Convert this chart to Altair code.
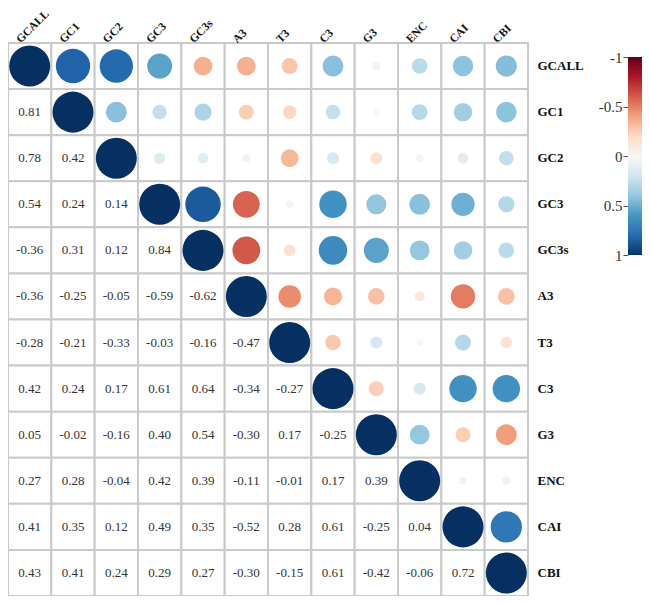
import altair as alt
import pandas as pd

variables = ["GCALL", "GC1", "GC2", "GC3", "GC3s", "A3", "T3", "C3", "G3", "ENC", "CAI", "CBI"]

# lower-triangle correlation values, row by row (row i, columns 0..i-1)
lower = [
    [],
    [0.81],
    [0.78, 0.42],
    [0.54, 0.24, 0.14],
    [-0.36, 0.31, 0.12, 0.84],
    [-0.36, -0.25, -0.05, -0.59, -0.62],
    [-0.28, -0.21, -0.33, -0.03, -0.16, -0.47],
    [0.42, 0.24, 0.17, 0.61, 0.64, -0.34, -0.27],
    [0.05, -0.02, -0.16, 0.40, 0.54, -0.30, 0.17, -0.25],
    [0.27, 0.28, -0.04, 0.42, 0.39, -0.11, -0.01, 0.17, 0.39],
    [0.41, 0.35, 0.12, 0.49, 0.35, -0.52, 0.28, 0.61, -0.25, 0.04],
    [0.43, 0.41, 0.24, 0.29, 0.27, -0.30, -0.15, 0.61, -0.42, -0.06, 0.72],
]

legend_values = [-1, -0.5, 0, 0.5, 1]

# RdBu palette stops (ColorBrewer), from -1 to 1
rdbu_colors = ["#67001f", "#b2182b", "#d6604d", "#f4a582", "#fddbc7", "#f7f7f7",
               "#d1e5f0", "#92c5de", "#4393c3", "#2166ac", "#053061"]
rdbu_stops = [-1, -0.8, -0.6, -0.4, -0.2, 0, 0.2, 0.4, 0.6, 0.8, 1]

n = len(variables)
M = [[1.0] * n for _ in range(n)]
for i in range(n):
    for j, v in enumerate(lower[i]):
        M[i][j] = v
        M[j][i] = v

rows = []
for i in range(n):
    for j in range(n):
        rows.append(dict(row=variables[i], col=variables[j], r=M[i][j],
                         part="text" if j < i else "circle",
                         label=f"{M[i][j]:.2f}"))
df = pd.DataFrame(rows)

FONT = "Liberation Serif"
color_scale = alt.Scale(domain=rdbu_stops, range=rdbu_colors, interpolate="rgb")

base = alt.Chart(df).encode(
    x=alt.X("col:N", sort=variables, title=None,
            scale=alt.Scale(paddingInner=0, paddingOuter=0),
            axis=alt.Axis(orient="top", labelAngle=-45, labelAlign="left",
                          labelBaseline="alphabetic", labelPadding=0, labelOffset=-9,
                          labelFont=FONT, labelFontWeight="bold", labelFontSize=11.5,
                          labelColor="#111111", domain=False, ticks=False, grid=False)),
    y=alt.Y("row:N", sort=variables, title=None,
            scale=alt.Scale(paddingInner=0, paddingOuter=0),
            axis=alt.Axis(orient="right", labelPadding=9, labelFont=FONT,
                          labelFontWeight="bold", labelFontSize=13, labelColor="#111111",
                          domain=False, ticks=False, grid=False)),
)

cells = base.mark_rect(fill="white", stroke="#cacaca", strokeWidth=2)

circles = base.transform_filter("datum.part == 'circle'").transform_calculate(
    s="pow(abs(datum.r) + 0.18, 2)"
).mark_circle(opacity=1).encode(
    color=alt.Color("r:Q", scale=color_scale, legend=None),
    size=alt.Size("s:Q", scale=alt.Scale(domain=[0, 1.3924], range=[0, 1681]), legend=None),
)

texts = base.transform_filter("datum.part == 'text'").mark_text(
    font=FONT, fontSize=13, color="#333333"
).encode(text="label:N")

matrix = alt.layer(cells, circles, texts)

# colour bar drawn through the same colour scale
colorbar = alt.Chart(alt.sequence(-1, 1, 0.02, as_="v")).transform_calculate(
    v2="min(datum.v + 0.026, 1)", x0="0", x1="1"
).mark_rect().encode(
    x=alt.X("x0:Q", scale=alt.Scale(domain=[0, 1], range=[620, 640]), axis=None),
    x2="x1:Q",
    y=alt.Y("v:Q", title=None,
            scale=alt.Scale(domain=[-1, 1], range=[14, 212], nice=False, zero=False),
            axis=alt.Axis(orient="left", offset=-620, values=legend_values,
                          labelExpr="'' + datum.value", labelFont=FONT, labelFontSize=15,
                          labelColor="#333333", labelPadding=1, tickSize=5,
                          tickColor="#555555", domain=False, grid=False)),
    y2="v2:Q",
    color=alt.Color("v:Q", scale=color_scale, legend=None),
)

chart = alt.layer(matrix, colorbar).resolve_scale(
    x="independent", y="independent"
).properties(
    width=520, height=553,
    padding={"left": 0, "top": 35, "right": 114, "bottom": 0},
    autosize=alt.AutoSizeParams(type="none"),
).configure_view(stroke=None)

chart.save("out.html", embed_options={"renderer": "svg", "actions": False})
